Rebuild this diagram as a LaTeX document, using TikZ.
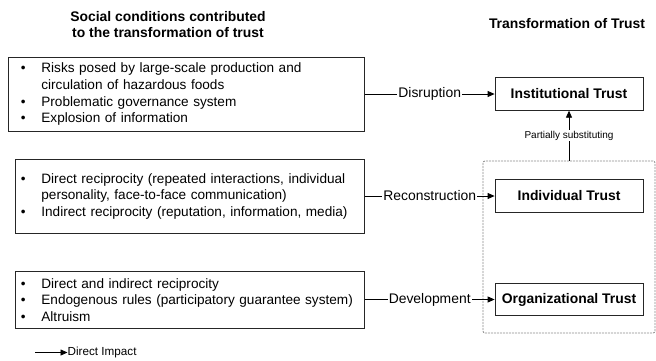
\documentclass[tikz,border=0pt]{standalone}
\usepackage{fontspec}
\setmainfont{Liberation Sans}
\usetikzlibrary{arrows.meta}
\newlength{\bw}
\setlength{\bw}{21pt}
\newcommand{\itm}[1]{\mbox{\makebox[\bw][l]{\hspace*{0.5pt}\textbullet}#1}}
\newcommand{\cnt}[1]{\mbox{\hspace*{\bw}#1}}
\tikzset{
  every node/.style={font=\fontsize{13.9}{16.7}\selectfont},
  condbox/.style={draw=black!85, line width=0.8pt, anchor=north west, align=left, inner ysep=0pt, font=\fontsize{13.6}{16.7}\selectfont},
  trustbox/.style={draw=black!85, line width=0.8pt, minimum width=148pt, minimum height=32.5pt, inner sep=0pt, font=\fontsize{13.9}{16.7}\selectfont\bfseries},
  title/.style={font=\fontsize{13.9}{15.7}\selectfont\bfseries, align=center, inner sep=0pt},
  impact/.style={line width=0.8pt, draw=black, -{Triangle[length=7pt,width=6pt]}},
  lbl/.style={fill=white, inner sep=1pt, font=\fontsize{13.9}{16.7}\selectfont},
}
\begin{document}
\begin{tikzpicture}[x=1pt, y=-1pt]
\useasboundingbox (0,0) rectangle (656,360);

\node[title] (t1) at (168,24.5) {Social conditions contributed\\to the transformation of trust};
\node[title] (t2) at (567,24) {Transformation of Trust};

\node[condbox, inner xsep=12pt, text width=332pt, minimum height=74pt] (c1) at (8,57)
  {\itm{Risks posed by large-scale production and}\\
   \cnt{circulation of hazardous foods}\\
   \itm{Problematic governance system}\\
   \itm{Explosion of information}};
\node[condbox, inner xsep=5pt, text width=339pt, minimum height=74pt] (c2) at (15,159)
  {\itm{Direct reciprocity (repeated interactions, individual}\\
   \cnt{personality, face-to-face communication)}\\
   \itm{Indirect reciprocity (reputation, information, media)}};
\node[condbox, inner xsep=5pt, text width=339pt, minimum height=57pt] (c3) at (15,271)
  {\itm{Direct and indirect reciprocity}\\
   \itm{Endogenous rules (participatory guarantee system)}\\
   \itm{Altruism}};

\node[trustbox] (inst) at (569,94) {Institutional Trust};
\node[trustbox] (indiv) at (569,196) {Individual Trust};
\node[trustbox] (org) at (569,299.5) {Organizational Trust};

\node[draw=black!45, line width=0.8pt, dash pattern=on 2pt off 1pt, rounded corners=2pt,
      minimum width=172pt, minimum height=172pt, inner sep=0pt] (grp) at (569,247) {};

\draw[impact] (c1.east |- inst.west) -- node[lbl] {Disruption} (inst.west);
\draw[impact] (c2.east |- indiv.west) -- node[lbl] {Reconstruction} (indiv.west);
\draw[impact] (c3.east |- org.west) -- node[lbl] {Development} (org.west);
\draw[impact] (grp.north) -- node[lbl, font=\fontsize{10}{12}\selectfont] {Partially substituting} (inst.south);

\coordinate (l0) at (35,352.5);
\node[anchor=west, inner sep=0pt, font=\fontsize{11.7}{14}\selectfont] (leg) at (67.5,352.5) {Direct Impact};
\draw[impact] (l0) -- (leg.west);
\end{tikzpicture}
\end{document}
